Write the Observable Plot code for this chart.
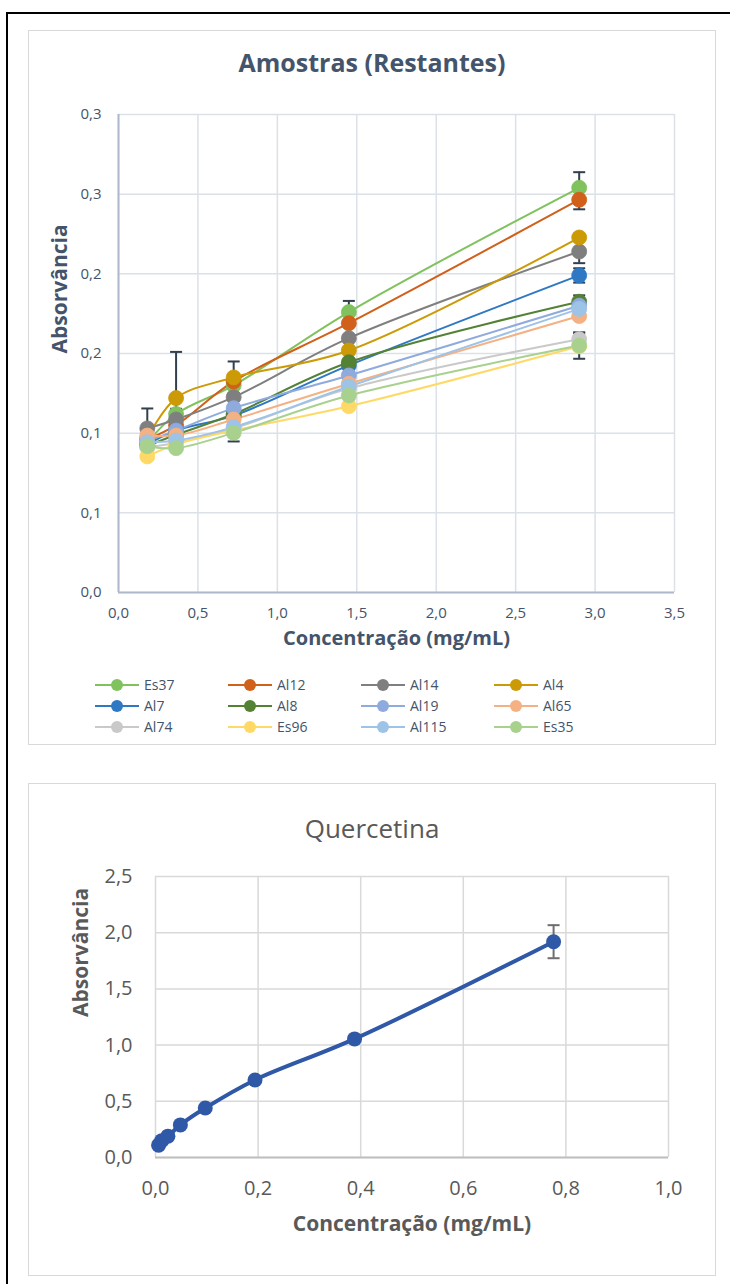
<!DOCTYPE html>
<html>
<head>
<meta charset="utf-8">
<script src="https://cdn.jsdelivr.net/npm/d3@7"></script>
<script src="https://cdn.jsdelivr.net/npm/@observablehq/plot@0.6"></script>
<style>
  html, body { margin: 0; padding: 0; background: #fff; }
  body { width: 730px; height: 1284px; position: relative; overflow: hidden; font-family: "Open Sans", sans-serif; }
  .abs { position: absolute; }
  .frame { position: absolute; border: 1px solid #D9D9D9; box-sizing: border-box; pointer-events: none; }
  .outer { position: absolute; left: 6px; top: 12px; right: -10px; bottom: -10px; border-top: 2px solid #000; border-left: 2px solid #000; pointer-events: none; }
  .title { position: absolute; left: 28px; width: 688px; text-align: center; }
  #legend { position: absolute; left: 95px; top: 674px; display: grid; grid-template-columns: repeat(4, 133px); grid-auto-rows: 21px; }
  .item { display: flex; align-items: center; font-size: 14px; color: #44546A; }
  .item svg { margin-right: 5px; }
</style>
</head>
<body>
<div id="c1" class="abs" style="left:0;top:0"></div>
<div id="c2" class="abs" style="left:0;top:783px"></div>
<div class="title" style="top:44px;font-size:25px;font-weight:700;color:#44546A;line-height:36px">Amostras (Restantes)</div>
<div class="title" style="top:810px;font-size:26px;font-weight:400;color:#595959;line-height:36px">Quercetina</div>
<div id="legend"></div>
<div class="frame" style="left:28px;top:30px;width:688px;height:715px"></div>
<div class="frame" style="left:28px;top:783px;width:688px;height:493px"></div>
<div class="outer"></div>
<script>
// ---------- Chart 1 data ----------
const conc = [0.18125, 0.3625, 0.725, 1.45, 2.9];
const seriesNames = ["Es37", "Al12", "Al14", "Al4", "Al7", "Al8", "Al19", "Al65", "Al74", "Es96", "Al115", "Es35"];
const Es37  = [0.094, 0.112, 0.130, 0.176, 0.254];
const Al12  = [0.096, 0.105, 0.1325, 0.169, 0.2465];
const Al14  = [0.103, 0.1086, 0.1226, 0.1596, 0.214];
const Al4   = [0.097, 0.122, 0.135, 0.1519, 0.2228];
const Al7   = [0.093, 0.1017, 0.111, 0.1425, 0.199];
const Al8   = [0.092, 0.099, 0.112, 0.1445, 0.1825];
const Al19  = [0.095, 0.1017, 0.1157, 0.1362, 0.180];
const Al65  = [0.0985, 0.0985, 0.1086, 0.131, 0.1735];
const Al74  = [0.091, 0.094, 0.103, 0.128, 0.159];
const Es96  = [0.0854, 0.093, 0.1017, 0.1169, 0.1545];
const Al115 = [0.0943, 0.0954, 0.1038, 0.1293, 0.178];
const Es35  = [0.0918, 0.0906, 0.1002, 0.1236, 0.155];
const seriesValues = [Es37, Al12, Al14, Al4, Al7, Al8, Al19, Al65, Al74, Es96, Al115, Es35];
// error (± standard deviation)
const errEs37  = [0.002, 0.002, 0.002, 0.007, 0.0098];
const errAl12  = [0.002, 0.002, 0.002, 0.002, 0.006];
const errAl14  = [0.0125, 0.0067, 0.002, 0.002, 0.0073];
const errAl4   = [0.002, 0.029, 0.010, 0.002, 0.002];
const errAl7   = [0.002, 0.002, 0.002, 0.002, 0.0045];
const errAl8   = [0.002, 0.002, 0.002, 0.002, 0.004];
const errAl19  = [0.002, 0.002, 0.002, 0.002, 0.002];
const errAl65  = [0.002, 0.002, 0.002, 0.002, 0.002];
const errAl74  = [0.002, 0.002, 0.002, 0.002, 0.0037];
const errEs96  = [0.002, 0.002, 0.002, 0.002, 0.002];
const errAl115 = [0.002, 0.002, 0.002, 0.002, 0.002];
const errEs35  = [0.002, 0.002, 0.0054, 0.002, 0.0083];
const seriesErrors = [errEs37, errAl12, errAl14, errAl4, errAl7, errAl8, errAl19, errAl65, errAl74, errEs96, errAl115, errEs35];
const seriesColors = ["#80C25E", "#D0601A", "#7F7F7F", "#CC9A06", "#2F78C4", "#548235", "#8FAADC", "#F4B183", "#C9C9C9", "#FFD966", "#9DC3E6", "#A9D18E"];
const xTicks1 = [0, 0.5, 1, 1.5, 2, 2.5, 3, 3.5];
const xTickLabels1 = ["0,0", "0,5", "1,0", "1,5", "2,0", "2,5", "3,0", "3,5"];
const yTicks1 = [0, 0.05, 0.10, 0.15, 0.20, 0.25, 0.30];
const yTickLabels1 = ["0,0", "0,1", "0,1", "0,2", "0,2", "0,3", "0,3"];

// ---------- Chart 2 data ----------
const qConc = [0.00606, 0.0121, 0.0242, 0.0485, 0.097, 0.194, 0.388, 0.776];
const qAbs  = [0.11, 0.15, 0.19, 0.29, 0.44, 0.69, 1.055, 1.92];
const qErr  = [0.01, 0.01, 0.01, 0.01, 0.01, 0.01, 0.01, 0.147];
const xTicks2 = [0, 0.2, 0.4, 0.6, 0.8, 1.0];
const xTickLabels2 = ["0,0", "0,2", "0,4", "0,6", "0,8", "1,0"];
const yTicks2 = [0, 0.5, 1.0, 1.5, 2.0, 2.5];
const yTickLabels2 = ["0,0", "0,5", "1,0", "1,5", "2,0", "2,5"];

// ---------- build rows ----------
const rows = [];
seriesNames.forEach((s, si) => {
  conc.forEach((c, i) => rows.push({series: s, x: c, y: seriesValues[si][i], e: seriesErrors[si][i]}));
});
const qRows = qConc.map((c, i) => ({x: c, y: qAbs[i], e: qErr[i]}));

const capSymbol = {
  draw(ctx, size) {
    const w = Math.sqrt(size / Math.PI);
    ctx.moveTo(-w, 0);
    ctx.lineTo(w, 0);
  }
};

const colorScale = {domain: seriesNames, range: seriesColors};

const chart1 = Plot.plot({
  width: 730,
  height: 660,
  marginTop: 114,
  marginBottom: 68,
  marginLeft: 118,
  marginRight: 56,
  style: {background: "none", fontFamily: "'Open Sans', sans-serif", fontSize: "15px", color: "#44546A", overflow: "visible"},
  x: {domain: [0, 3.5]},
  y: {domain: [0, 0.3]},
  color: colorScale,
  marks: [
    Plot.gridX(xTicks1, {stroke: "#DCE1E8", strokeOpacity: 1, strokeWidth: 1.5}),
    Plot.gridY(yTicks1, {stroke: "#DCE1E8", strokeOpacity: 1, strokeWidth: 1.5}),
    Plot.ruleX([0], {stroke: "#ADB9CA", strokeWidth: 2}),
    Plot.ruleY([0], {stroke: "#ADB9CA", strokeWidth: 2}),
    Plot.axisX({ticks: xTicks1, tickFormat: d => xTickLabels1[xTicks1.indexOf(d)], tickSize: 0, tickPadding: 15, label: null, fill: "#44546A"}),
    Plot.axisY({ticks: yTicks1, tickFormat: d => yTickLabels1[yTicks1.indexOf(d)], tickSize: 0, tickPadding: 17, label: null, fill: "#44546A"}),
    Plot.line(rows, {x: "x", y: "y", z: "series", stroke: "series", strokeWidth: 2, curve: "catmull-rom"}),
    Plot.ruleX(rows, {x: "x", y1: d => d.y - d.e, y2: d => d.y + d.e, stroke: "#323F4F", strokeWidth: 2}),
    Plot.dot(rows, {x: "x", y: d => d.y + d.e, symbol: capSymbol, r: 6, stroke: "#323F4F", strokeWidth: 2, fill: "none"}),
    Plot.dot(rows, {x: "x", y: d => d.y - d.e, symbol: capSymbol, r: 6, stroke: "#323F4F", strokeWidth: 2, fill: "none"}),
    Plot.dot(rows, {x: "x", y: "y", fill: "series", r: 7.5, stroke: "series", strokeWidth: 0.8}),
    Plot.text(["Concentração (mg/mL)"], {frameAnchor: "bottom", dy: 52, text: d => d, fontWeight: 700, fontSize: 20, fill: "#44546A"}),
    Plot.text(["Absorvância"], {frameAnchor: "left", dx: -58, rotate: -90, text: d => d, fontWeight: 700, fontSize: 21, fill: "#44546A"})
  ]
});
document.getElementById("c1").appendChild(chart1);

const chart2 = Plot.plot({
  width: 730,
  height: 501,
  marginTop: 93,
  marginBottom: 127,
  marginLeft: 155,
  marginRight: 62,
  style: {background: "none", fontFamily: "'Open Sans', sans-serif", fontSize: "20px", color: "#595959", overflow: "visible"},
  x: {domain: [0, 1]},
  y: {domain: [0, 2.5]},
  marks: [
    Plot.gridX(xTicks2, {stroke: "#D9D9D9", strokeOpacity: 1, strokeWidth: 1.5}),
    Plot.gridY(yTicks2, {stroke: "#D9D9D9", strokeOpacity: 1, strokeWidth: 1.5}),
    Plot.ruleY([0], {stroke: "#BFBFBF", strokeWidth: 2}),
    Plot.axisX({ticks: xTicks2, tickFormat: d => xTickLabels2[xTicks2.indexOf(d)], tickSize: 0, tickPadding: 23, label: null, fill: "#595959"}),
    Plot.axisY({ticks: yTicks2, tickFormat: d => yTickLabels2[yTicks2.indexOf(d)], tickSize: 0, tickPadding: 23, label: null, fill: "#595959"}),
    Plot.line(qRows, {x: "x", y: "y", stroke: "#2F58A6", strokeWidth: 4, curve: "catmull-rom"}),
    Plot.ruleX(qRows, {x: "x", y1: d => d.y - d.e, y2: d => d.y + d.e, stroke: "#6E6E6E", strokeWidth: 2}),
    Plot.dot(qRows, {x: "x", y: d => d.y + d.e, symbol: capSymbol, r: 6, stroke: "#6E6E6E", strokeWidth: 2, fill: "none"}),
    Plot.dot(qRows, {x: "x", y: d => d.y - d.e, symbol: capSymbol, r: 6, stroke: "#6E6E6E", strokeWidth: 2, fill: "none"}),
    Plot.dot(qRows, {x: "x", y: "y", fill: "#2F58A6", r: 7.5}),
    Plot.text(["Concentração (mg/mL)"], {frameAnchor: "bottom", dy: 73, text: d => d, fontWeight: 700, fontSize: 21, fill: "#595959"}),
    Plot.text(["Absorvância"], {frameAnchor: "left", dx: -74, rotate: -90, text: d => d, fontWeight: 700, fontSize: 21, fill: "#595959"})
  ]
});
document.getElementById("c2").appendChild(chart2);

// ---------- legend ----------
const legend = document.getElementById("legend");
seriesNames.forEach((s, i) => {
  const item = document.createElement("div");
  item.className = "item";
  const col = seriesColors[i];
  item.innerHTML = `<svg width="44" height="14"><line x1="0" y1="7" x2="44" y2="7" stroke="${col}" stroke-width="2"/><circle cx="22" cy="7" r="6" fill="${col}"/></svg><span>${s}</span>`;
  legend.appendChild(item);
});
</script>
</body>
</html>
